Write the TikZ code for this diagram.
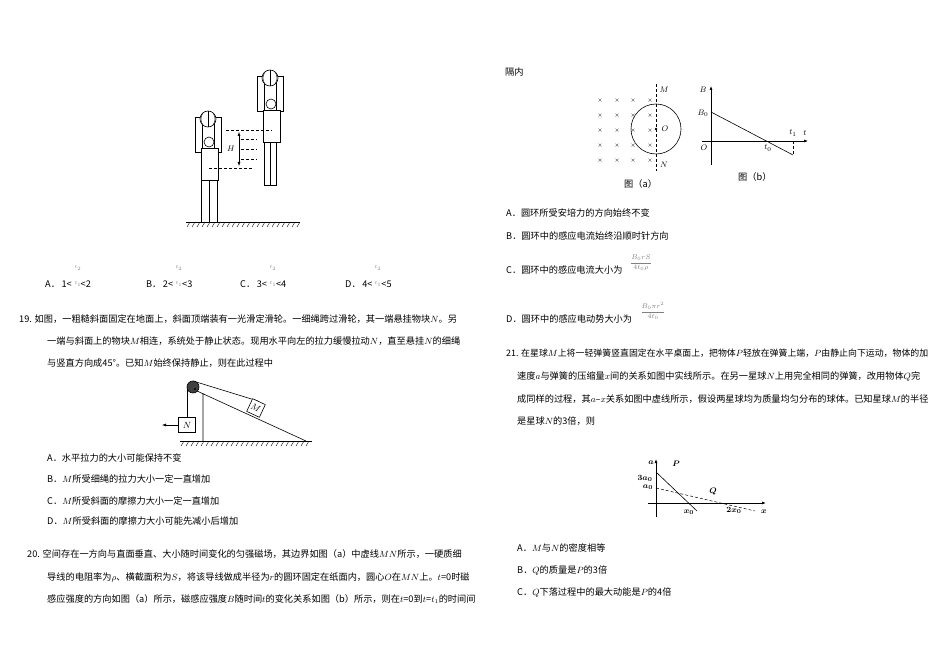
\documentclass[tikz,border=0pt]{standalone}
\usepackage{amsmath}
\usepackage{fontspec}
\setmainfont{Noto Sans CJK SC}
\usetikzlibrary{arrows.meta,patterns}
\begin{document}
\begin{tikzpicture}[x=1pt,y=-1pt,
 tx/.style={anchor=base west,inner sep=0pt,font=\fontsize{9.2}{10}\selectfont},
 sm/.style={inner sep=0pt,font=\fontsize{8.5}{9}\selectfont},
 ln/.style={line width=0.6pt},
 dsh/.style={line width=0.5pt,dash pattern=on 3pt off 2pt}]
\useasboundingbox (0,0) rectangle (950,671);
% ---------- basketball players ----------
\foreach \cx/\cy/\ty in {208/119/148, 270/78/110}{
 \draw[ln] (\cx-13,\cy-2) rectangle (\cx-6,\cy+33);
 \draw[ln] (\cx+6,\cy-2) rectangle (\cx+13,\cy+33);
 \draw[ln,fill=white] (\cx,\cy) circle (8);
 \draw[line width=0.4pt] (\cx,\cy-8)--(\cx,\cy+8);
 \draw[line width=0.4pt] (\cx-5,\cy-6) to[bend right=35] (\cx-5,\cy+6);
 \draw[line width=0.4pt] (\cx+5,\cy-6) to[bend left=35] (\cx+5,\cy+6);
 \draw[ln] (\cx+1,\ty-6) circle (5);
 \draw[ln,fill=white] (\cx-7,\ty) rectangle (\cx+10,\ty+32);
}
\draw[ln] (201,180) rectangle (209,222); \draw[ln] (209,180) rectangle (217,222);
\draw[ln] (264,142) rectangle (270,185); \draw[ln] (270,142) rectangle (276,185);
\draw[ln] (186,222)--(300,222);
\foreach \i in {0,...,22}\draw[line width=0.4pt] (187+\i*5,227)--(190+\i*5,222);
\draw[dsh] (226,130)--(272,130) (209,168)--(252,168)
 (241,139)--(257,139) (241,149)--(257,149) (241,159)--(257,159);
\draw[line width=0.5pt,-{Latex[length=4pt]}] (239,149)--(239,132);
\draw[line width=0.5pt,-{Latex[length=4pt]}] (239,149)--(239,166);
\node[sm] (H) at (231,149) {$H$};
% ---------- options 18 ----------
\foreach \x/\l/\a/\b in {45/A/1/2,146/B/2/3,240/C/3/4,345/D/4/5}{
 \node[tx] at (\x,287) {\l．\,\a<\hspace{9pt}<\b};
 \node[inner sep=0pt,font=\tiny,text=gray] at (\x+33,268) {$t_2$};
 \node[inner sep=0pt,font=\tiny,text=gray] at (\x+33,284) {$t_1$};
}
% ---------- Q19 ----------
\node[tx] at (19,322) {19. 如图，一粗糙斜面固定在地面上，斜面顶端装有一光滑定滑轮。一细绳跨过滑轮，其一端悬挂物块$N$。另};
\node[tx] at (47,344) {一端与斜面上的物块$M$相连，系统处于静止状态。现用水平向左的拉力缓慢拉动$N$，直至悬挂$N$的细绳};
\node[tx] at (47,366) {与竖直方向成45°。已知$M$始终保持静止，则在此过程中};
\draw[ln] (180,441)--(312,441);
\foreach \i in {0,...,25}\draw[line width=0.4pt] (181+\i*5,446)--(184+\i*5,441);
\draw[ln] (197,391)--(306,441) (203,393)--(203,441);
\draw[ln] (193,381)--(258,401);
\draw[ln] (187,387)--(187,417);
\draw[ln,fill=black!75] (193,387) circle (6);
\fill (195,389) circle (1.2);
\node[draw,ln,fill=white,minimum size=14pt,inner sep=0pt,rotate=-25] (M) at (256,408) {\fontsize{9}{9}\selectfont$M$};
\node[draw,ln,fill=white,minimum width=17pt,minimum height=15pt,inner sep=0pt] (N) at (187,425) {\fontsize{9}{9}\selectfont$N$};
\coordinate (NL) at (162,425);
\draw[line width=0.5pt,-{Latex[length=4pt]}] (N.west)--(NL);
\node[tx] at (47,461) {A．水平拉力的大小可能保持不变};
\node[tx] at (47,482) {B．$M$所受细绳的拉力大小一定一直增加};
\node[tx] at (47,504) {C．$M$所受斜面的摩擦力大小一定一直增加};
\node[tx] at (47,524) {D．$M$所受斜面的摩擦力大小可能先减小后增加};
% ---------- Q20 ----------
\node[tx] at (27,557) {20. 空间存在一方向与直面垂直、大小随时间变化的匀强磁场，其边界如图（a）中虚线$MN$所示，一硬质细};
\node[tx] at (47,580) {导线的电阻率为$\rho$、横截面积为$S$，将该导线做成半径为$r$的圆环固定在纸面内，圆心$O$在$MN$上。$t$=0时磁};
\node[tx] at (47,602) {感应强度的方向如图（a）所示，磁感应强度$B$随时间$t$的变化关系如图（b）所示，则在$t$=0到$t$=$t_1$的时间间};
\node[tx] at (505,76) {隔内};
% fig a
\foreach \x in {600,617,633,650}\foreach \y in {101,116,131,146,161}\node[inner sep=0pt,font=\tiny] at (\x,\y) {×};
\draw[ln] (656,129) circle (25);
\draw[dsh] (656,84)--(656,171);
\fill (656,129) circle (1.3);
\node[sm] at (664,90) {$M$}; \node[sm] at (665,129) {$O$}; \node[sm] at (664,165) {$N$};
\node[tx] at (624,188) {图（a）};
% fig b
\coordinate (o) at (711,141);
\draw[ln,-{Latex[length=4pt]}] (711,165)--(711,86);
\draw[ln,-{Latex[length=4pt]}] (702,141)--(808,141);
\draw[ln] (711,112)--(793,155);
\draw[dsh] (793,141)--(793,155);
\node[sm] at (703,90) {$B$}; \node[sm] at (703,113) {$B_0$};
\node[sm] at (704,148) {$O$}; \node[sm] at (768,148) {$t_0$};
\node[sm] at (793,133) {$t_1$}; \node[sm] at (805,133) {$t$};
\node[tx] at (738,181) {图（b）};
\node[tx] at (506,217) {A．圆环所受安培力的方向始终不变};
\node[tx] at (506,239) {B．圆环中的感应电流始终沿顺时针方向};
\node[tx] at (506,273) {C．圆环中的感应电流大小为};
\node[inner sep=0pt,font=\scriptsize,text=gray] at (641,263) {$\displaystyle\frac{B_0rS}{4t_0\rho}$};
\node[tx] at (506,322) {D．圆环中的感应电动势大小为};
\node[inner sep=0pt,font=\scriptsize,text=gray] at (653,311) {$\displaystyle\frac{B_0\pi r^2}{4t_0}$};
% ---------- Q21 ----------
\node[tx,font=\fontsize{8.9}{10}\selectfont] at (506,356) {21. 在星球$M$上将一轻弹簧竖直固定在水平桌面上，把物体$P$轻放在弹簧上端，$P$由静止向下运动，物体的加};
\node[tx] at (517,379) {速度$a$与弹簧的压缩量$x$间的关系如图中实线所示。在另一星球$N$上用完全相同的弹簧，改用物体$Q$完};
\node[tx] at (517,402) {成同样的过程，其$a$–$x$关系如图中虚线所示，假设两星球均为质量均匀分布的球体。已知星球$M$的半径};
\node[tx] at (517,424) {是星球$N$的3倍，则};
\draw[line width=0.8pt,-{Latex[length=4pt]}] (656,517)--(656,459);
\draw[line width=0.8pt,-{Latex[length=4pt]}] (648,503)--(766,503);
\draw[ln] (656,472)--(697,511);
\draw[dsh] (656,488)--(755,511);
\node[sm] at (651,463) {$\boldsymbol a$}; \node[sm] at (645,478) {$\boldsymbol{3a_0}$};
\node[sm] at (648,487) {$\boldsymbol{a_0}$}; \node[sm] at (676,464) {$\boldsymbol P$};
\node[sm] at (713,492) {$\boldsymbol Q$}; \node[sm] at (689,512) {$\boldsymbol{x_0}$};
\node[sm] at (734,510) {$\boldsymbol{2x_0}$}; \node[sm] at (764,512) {$\boldsymbol x$};
\node[tx] at (517,551) {A．$M$与$N$的密度相等};
\node[tx] at (517,573) {B．$Q$的质量是$P$的3倍};
\node[tx] at (517,595) {C．$Q$下落过程中的最大动能是$P$的4倍};
\end{tikzpicture}
\end{document}
